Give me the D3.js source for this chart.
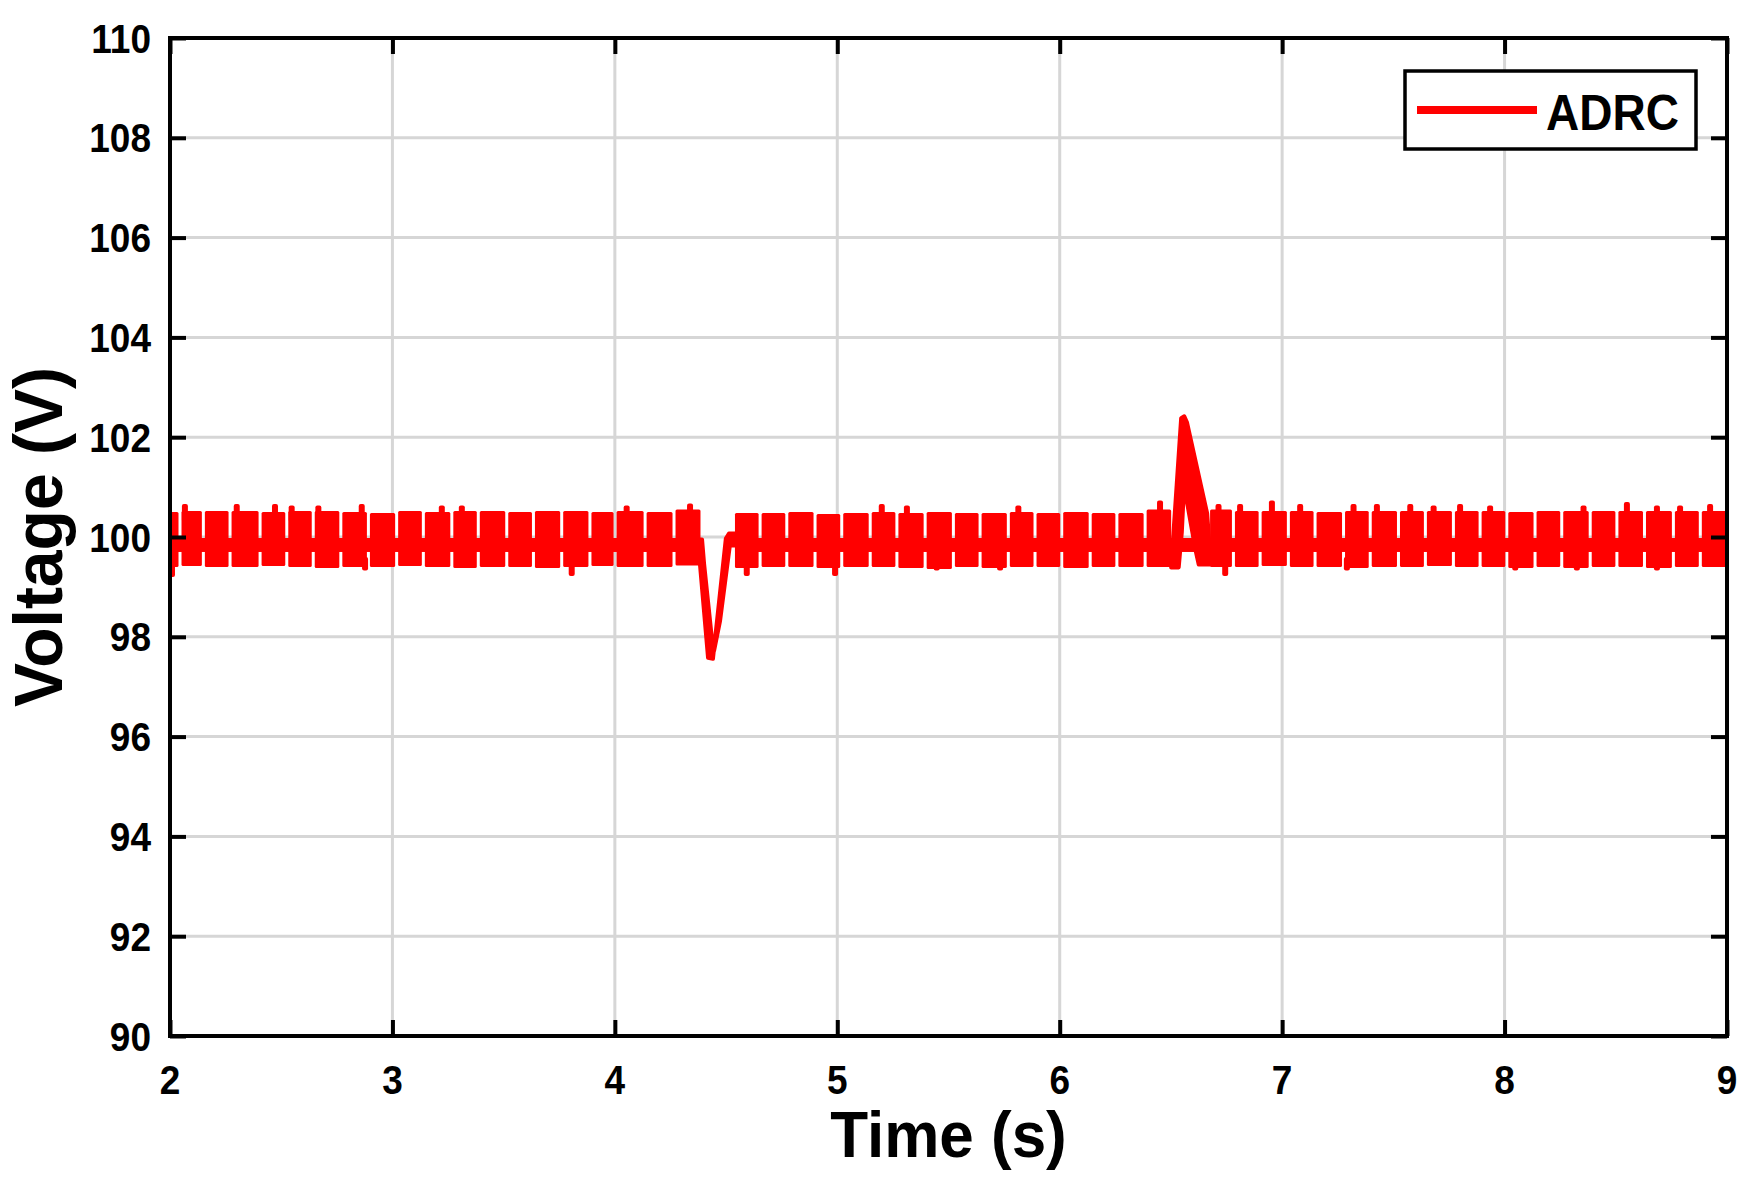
<!DOCTYPE html>
<html>
<head>
<meta charset="utf-8">
<script src="https://cdn.jsdelivr.net/npm/d3@7"></script>
<style>
  body { margin: 0; background: #fff; }
  text { font-family: "Liberation Sans", Arial, Helvetica, sans-serif; font-weight: bold; fill: #000; }
</style>
</head>
<body>
<script>
// axis ticks
var xTicks = [2, 3, 4, 5, 6, 7, 8, 9];
var yTicks = [90, 92, 94, 96, 98, 100, 102, 104, 106, 108, 110];

// times (s) where the ripple blocks of the ADRC trace break, per steady section
var edgesA = [2.000, 2.045, 2.150, 2.270, 2.405, 2.525, 2.644, 2.768, 2.892, 3.019, 3.139,
              3.267, 3.386, 3.514, 3.634, 3.761, 3.888, 4.001, 4.136, 4.266, 4.385];
var edgesB = [4.540, 4.653, 4.773, 4.900, 5.020, 5.148, 5.268, 5.395, 5.522, 5.642, 5.769,
              5.889, 6.009, 6.137, 6.257, 6.384, 6.501];
var edgesC = [6.676, 6.781, 6.901, 7.028, 7.148, 7.276, 7.396, 7.523, 7.644, 7.770, 7.890,
              8.010, 8.137, 8.257, 8.385, 8.505, 8.629, 8.759, 8.880, 9.000];

// top / bottom voltage of each ripple block
var hiA = [100.50,100.52,100.52,100.52,100.50,100.52,100.52,100.50,100.48,100.52,100.50,100.52,100.52,100.50,100.52,100.52,100.50,100.52,100.50,100.55];
var loA = [99.40,99.42,99.40,99.40,99.42,99.40,99.38,99.40,99.40,99.42,99.40,99.38,99.40,99.40,99.38,99.40,99.42,99.40,99.40,99.43];
var hiB = [100.48,100.48,100.50,100.46,100.48,100.50,100.48,100.50,100.48,100.48,100.50,100.48,100.50,100.48,100.48,100.55];
var loB = [99.38,99.40,99.40,99.38,99.40,99.40,99.38,99.36,99.40,99.38,99.40,99.40,99.38,99.40,99.40,99.40];
var hiC = [100.55,100.52,100.52,100.52,100.50,100.52,100.52,100.52,100.52,100.52,100.52,100.50,100.52,100.52,100.52,100.52,100.52,100.52,100.52];
var loC = [99.40,99.40,99.42,99.40,99.40,99.38,99.40,99.40,99.42,99.40,99.40,99.38,99.40,99.38,99.40,99.40,99.38,99.40,99.40];

// narrow overshoots sticking out of the ripple band [t, V]
var spikesUp = [[2.067,100.66],[2.300,100.66],[2.472,100.66],[2.547,100.63],[2.667,100.63],[2.862,100.66],
                [3.222,100.63],[3.312,100.63],[4.053,100.63],[4.338,100.67],[5.200,100.66],[5.313,100.63],
                [5.814,100.63],[6.451,100.73],[6.714,100.66],[6.811,100.66],[6.954,100.73],[7.081,100.66],
                [7.321,100.66],[7.426,100.66],[7.576,100.66],[7.681,100.63],[7.800,100.66],[7.935,100.63],
                [8.355,100.63],[8.550,100.70],[8.685,100.63],[8.789,100.63],[8.924,100.66]];
var spikesDown = [[2.009,99.20],[2.877,99.33],[3.806,99.22],[4.593,99.22],[4.990,99.22],[5.447,99.33],
                  [5.732,99.33],[6.744,99.22],[7.291,99.33],[8.048,99.33],[8.325,99.33],[8.685,99.33]];

// mid level the trace passes through between blocks
var midBand = [99.70, 99.98];

// load change transients [t, V] outlines
var dipShape = [[4.376,99.95],[4.383,99.43],[4.419,97.58],[4.441,97.56],[4.499,99.97],[4.513,100.07],
                [4.540,100.07],[4.540,99.83],[4.517,99.83],[4.473,98.32],[4.446,97.72],[4.437,97.93],
                [4.401,99.47],[4.392,99.95]];
var peakShape = [[6.501,99.39],[6.546,102.38],[6.560,102.42],[6.572,102.30],[6.663,100.47],[6.676,99.67],
                 [6.676,99.45],[6.625,99.45],[6.610,99.75],[6.559,101.03],[6.549,100.1],[6.535,99.39]];

(function(){
var W = 1761, H = 1197;
var mLeft = 170, mRight = 1727, mTop = 38, mBottom = 1036;
var red = "#ff0000";

var svg = d3.select("body").append("svg")
    .attr("width", W)
    .attr("height", H);

svg.append("rect").attr("width", W).attr("height", H).attr("fill", "#fff");

var x = d3.scaleLinear().domain([2, 9]).range([mLeft, mRight]);
var y = d3.scaleLinear().domain([90, 110]).range([mBottom, mTop]);

svg.append("clipPath").attr("id", "plotClip")
  .append("rect")
    .attr("x", mLeft).attr("y", mTop)
    .attr("width", mRight - mLeft).attr("height", mBottom - mTop);

// grid
var grid = svg.append("g").attr("stroke", "#d6d6d6").attr("stroke-width", 3);
grid.selectAll(".gx").data(xTicks.slice(1, -1)).enter().append("line")
    .attr("x1", function(d){ return x(d); }).attr("x2", function(d){ return x(d); })
    .attr("y1", mTop).attr("y2", mBottom);
grid.selectAll(".gy").data(yTicks.slice(1, -1)).enter().append("line")
    .attr("y1", function(d){ return y(d); }).attr("y2", function(d){ return y(d); })
    .attr("x1", mLeft).attr("x2", mRight);

// signal
var plot = svg.append("g").attr("clip-path", "url(#plotClip)").attr("fill", red);

function blocks(edges, hi, lo){
  var out = [];
  var n = edges.length - 1;
  for (var i = 0; i < n; i++) {
    out.push({t0: edges[i], t1: edges[i+1], hi: hi[i], lo: lo[i],
              padL: i === 0 ? 0 : 1.5, padR: i === n - 1 ? 0 : 1.5});
  }
  return out;
}
var sections = [[edgesA, hiA, loA], [edgesB, hiB, loB], [edgesC, hiC, loC]];

// mid strip: B runs on through the overshoot into C
plot.append("rect")
    .attr("x", x(edgesA[0]))
    .attr("width", x(edgesA[edgesA.length-1]) - x(edgesA[0]))
    .attr("y", y(midBand[1]))
    .attr("height", y(midBand[0]) - y(midBand[1]));
plot.append("rect")
    .attr("x", x(edgesB[0]))
    .attr("width", x(edgesC[edgesC.length-1]) - x(edgesB[0]))
    .attr("y", y(midBand[1]))
    .attr("height", y(midBand[0]) - y(midBand[1]));

sections.forEach(function(s){
  plot.selectAll(null).data(blocks(s[0], s[1], s[2])).enter().append("rect")
      .attr("x", function(d){ return x(d.t0) + d.padL; })
      .attr("width", function(d){ return Math.max(1, x(d.t1) - x(d.t0) - d.padL - d.padR); })
      .attr("y", function(d){ return y(d.hi); })
      .attr("height", function(d){ return y(d.lo) - y(d.hi); })
      .attr("rx", 1.5);
});

plot.selectAll(".su").data(spikesUp).enter().append("rect")
    .attr("x", function(d){ return x(d[0]) - 3; })
    .attr("width", 6)
    .attr("y", function(d){ return y(d[1]); })
    .attr("height", function(d){ return y(100.3) - y(d[1]); })
    .attr("rx", 2);
plot.selectAll(".sd").data(spikesDown).enter().append("rect")
    .attr("x", function(d){ return x(d[0]) - 3; })
    .attr("width", 6)
    .attr("y", y(99.6))
    .attr("height", function(d){ return y(d[1]) - y(99.6); })
    .attr("rx", 2);

var shapeLine = d3.line()
    .x(function(d){ return x(d[0]); })
    .y(function(d){ return y(d[1]); })
    .curve(d3.curveLinearClosed);

[dipShape, peakShape].forEach(function(p){
  plot.append("path")
      .attr("d", shapeLine(p))
      .attr("stroke", red)
      .attr("stroke-width", 4)
      .attr("stroke-linejoin", "round");
});

// ticks on all four sides, pointing inwards
function styleAxis(g){
  g.select(".domain").remove();
  g.selectAll(".tick line").attr("stroke", "#000").attr("stroke-width", 4);
}
svg.append("g").attr("transform", "translate(0," + mBottom + ")")
    .call(d3.axisBottom(x).tickValues(xTicks).tickSizeInner(-16).tickSizeOuter(0).tickFormat(""))
    .call(styleAxis);
svg.append("g").attr("transform", "translate(0," + mTop + ")")
    .call(d3.axisTop(x).tickValues(xTicks).tickSizeInner(-16).tickSizeOuter(0).tickFormat(""))
    .call(styleAxis);
svg.append("g").attr("transform", "translate(" + mLeft + ",0)")
    .call(d3.axisLeft(y).tickValues(yTicks).tickSizeInner(-16).tickSizeOuter(0).tickFormat(""))
    .call(styleAxis);
svg.append("g").attr("transform", "translate(" + mRight + ",0)")
    .call(d3.axisRight(y).tickValues(yTicks).tickSizeInner(-16).tickSizeOuter(0).tickFormat(""))
    .call(styleAxis);

svg.append("rect")
    .attr("x", mLeft).attr("y", mTop)
    .attr("width", mRight - mLeft).attr("height", mBottom - mTop)
    .attr("fill", "none").attr("stroke", "#000").attr("stroke-width", 4);

// tick labels
svg.selectAll(".xl").data(xTicks).enter().append("text")
    .attr("text-anchor", "middle")
    .attr("font-size", 37)
    .attr("transform", function(d){ return "translate(" + x(d) + ",1094) scale(1,1.1)"; })
    .text(function(d){ return d; });
svg.selectAll(".yl").data(yTicks).enter().append("text")
    .attr("text-anchor", "end")
    .attr("font-size", 37)
    .attr("transform", function(d){ return "translate(151," + (y(d) + 14.5) + ") scale(1,1.1)"; })
    .text(function(d){ return d; });

// axis titles
svg.append("text")
    .attr("text-anchor", "middle")
    .attr("font-size", 62)
    .attr("transform", "translate(" + ((mLeft + mRight) / 2) + ",1157) scale(1,1.05)")
    .text("Time (s)");
svg.append("text")
    .attr("text-anchor", "middle")
    .attr("font-size", 66)
    .attr("transform", "translate(62," + ((mTop + mBottom) / 2) + ") rotate(-90) scale(1,1.04)")
    .text("Voltage (V)");

// legend
var legend = svg.append("g");
legend.append("rect")
    .attr("x", 1405).attr("y", 71).attr("width", 291).attr("height", 78)
    .attr("fill", "#fff").attr("stroke", "#000").attr("stroke-width", 3.5);
legend.append("line")
    .attr("x1", 1417).attr("x2", 1537).attr("y1", 110).attr("y2", 110)
    .attr("stroke", red).attr("stroke-width", 8);
legend.append("text")
    .attr("font-size", 46)
    .attr("transform", "translate(1546,130) scale(1,1.07)")
    .text("ADRC");
})();
</script>
</body>
</html>
